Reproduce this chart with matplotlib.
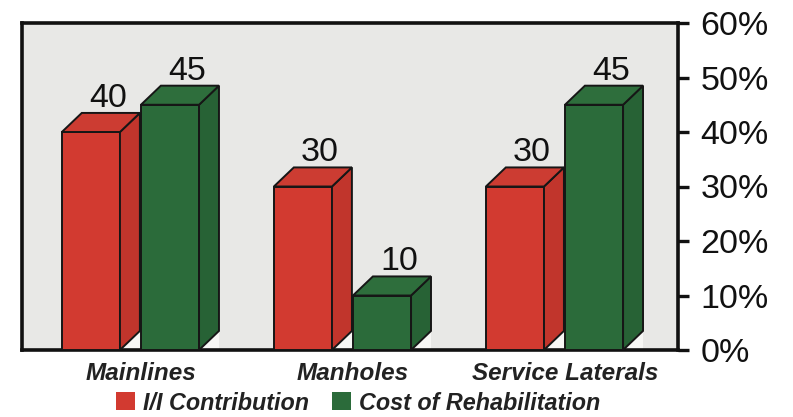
import matplotlib
matplotlib.use("Agg")
import matplotlib.pyplot as plt
from matplotlib.patches import Polygon, Patch

plt.rcParams['font.family'] = ['Liberation Sans', 'DejaVu Sans']

categories = ["Mainlines", "Manholes", "Service Laterals"]
ii_contribution = [40, 30, 30]
cost_rehab = [45, 10, 45]
series_names = ["I/I Contribution", "Cost of Rehabilitation"]
yticks = [0, 10, 20, 30, 40, 50, 60]
ytick_labels = ["0%", "10%", "20%", "30%", "40%", "50%", "60%"]

W, H = 793, 417
fig = plt.figure(figsize=(W / 100, H / 100), dpi=100)
ax = fig.add_axes([22 / W, (H - 350) / H, (678 - 22) / W, (350 - 23) / H])

bg = "#e8e8e6"
ax.set_facecolor(bg)
ax.set_xlim(-0.561, 2.533)
ax.set_ylim(0, 60)

bar_w = 0.274
dx = 0.094
dy = 3.5
offsets = [-0.373, 0.0]
colors = [
    dict(front="#d23a30", side="#c1352c", top="#cc3c32"),
    dict(front="#2b6b3a", side="#276235", top="#2e6e3c"),
]
edge = "#161616"
lw = 1.4

for i, c in enumerate(categories):
    for s, vals in enumerate([ii_contribution, cost_rehab]):
        v = vals[i]
        x0 = i + offsets[s]
        x1 = x0 + bar_w
        col = colors[s]
        # light floor triangle beneath side face
        ax.add_patch(Polygon([(x1, 0), (x1 + dx, 0), (x1 + dx, dy)], closed=True,
                             facecolor="#f7f7f5", edgecolor="none", zorder=2))
        # front
        ax.add_patch(Polygon([(x0, 0), (x1, 0), (x1, v), (x0, v)], closed=True,
                             facecolor=col["front"], edgecolor=edge, lw=lw, zorder=3))
        # side
        ax.add_patch(Polygon([(x1, 0), (x1 + dx, dy), (x1 + dx, v + dy), (x1, v)], closed=True,
                             facecolor=col["side"], edgecolor=edge, lw=lw, zorder=3))
        # top
        ax.add_patch(Polygon([(x0, v), (x1, v), (x1 + dx, v + dy), (x0 + dx, v + dy)], closed=True,
                             facecolor=col["top"], edgecolor=edge, lw=lw, zorder=3))
        ax.text(x0 + bar_w / 2 + 0.85 * dx, v + dy + 1.1, str(v), ha="center", va="baseline",
                fontsize=24.5, color="#111111", zorder=4)

# axes styling
for sp in ["left", "top", "bottom", "right"]:
    ax.spines[sp].set_linewidth(2.6)
    ax.spines[sp].set_color("#111111")
ax.spines["right"].set_zorder(5)

ax.yaxis.tick_right()
ax.set_yticks(yticks)
ax.set_yticklabels(ytick_labels)
ax.tick_params(axis="y", which="both", left=False, right=True, length=8, width=2.4,
               color="#111111", labelsize=24.5, pad=8, labelcolor="#111111")

ax.set_xticks(range(len(categories)))
ax.set_xticklabels(categories, fontsize=17.5, fontweight="bold", fontstyle="italic", color="#222222")
ax.tick_params(axis="x", length=0, pad=9)

handles = [Patch(facecolor=colors[0]["front"], edgecolor="none"),
           Patch(facecolor=colors[1]["front"], edgecolor="none")]
leg = fig.legend(handles, series_names, loc="center", bbox_to_anchor=(358 / W, 1 - 403 / H),
                 ncol=2, frameon=False, handlelength=0.8, handleheight=0.8, handletextpad=0.35,
                 columnspacing=1.0, borderaxespad=0, borderpad=0,
                 prop=dict(family="Liberation Sans", size=16.8, weight="bold", style="italic"))
for t in leg.get_texts():
    t.set_color("#222222")

fig.savefig("out.png", dpi=100, facecolor="white")
